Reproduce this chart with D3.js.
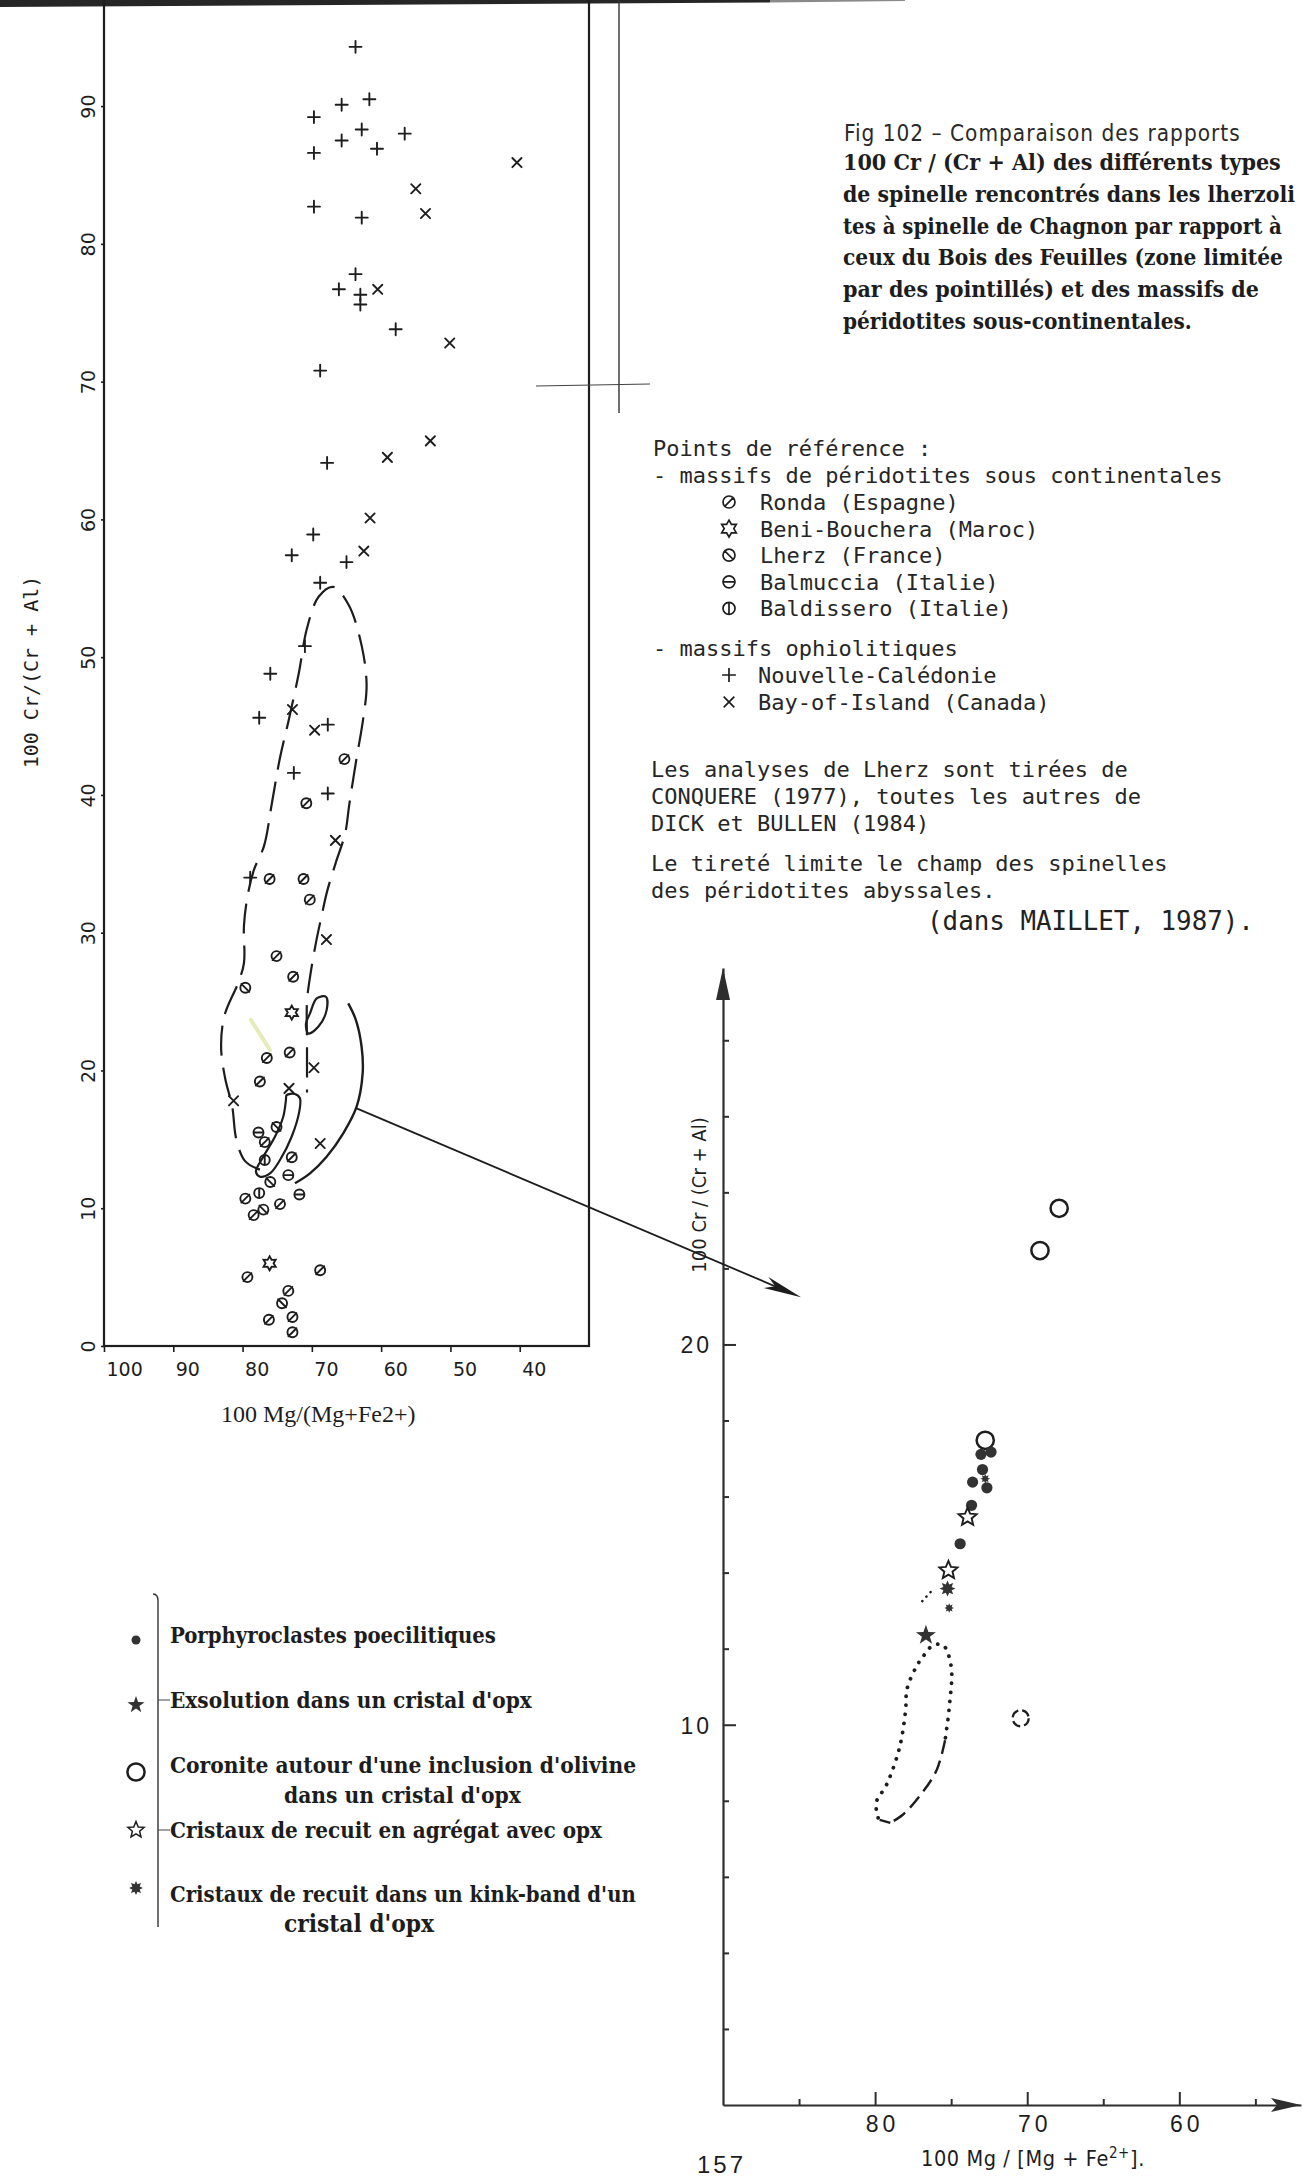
<!DOCTYPE html>
<html>
<head>
<meta charset="utf-8">
<script src="https://cdn.jsdelivr.net/npm/d3@7"></script>
<style>
  body { margin: 0; background: #fff; }
  svg { display: block; }
</style>
</head>
<body>
<svg id="page" width="1303" height="2179"></svg>
<script>
// ---- left diagram: reference points (x = 100 Mg/(Mg+Fe2+), y = 100 Cr/(Cr+Al)) ----
var leftXTicks = [100, 90, 80, 70, 60, 50, 40];
var leftYTicks = [0, 10, 20, 30, 40, 50, 60, 70, 80, 90];

// Nouvelle-Caledonie (+)
var plusPts = [[63.7,94.3],[65.7,90.1],[61.7,90.5],[69.7,89.2],[62.8,88.3],[56.6,88.0],[65.7,87.5],
  [60.6,86.9],[69.7,86.6],[69.7,82.7],[62.8,81.9],[63.7,77.8],[66.1,76.7],[63.0,76.3],[63.0,75.6],
  [57.9,73.8],[68.8,70.8],[67.8,64.1],[69.8,58.9],[72.9,57.4],[65.0,56.9],[68.8,55.4],[71.0,50.8],
  [76.0,48.8],[77.6,45.6],[67.7,45.1],[72.6,41.6],[67.7,40.1],[78.9,34.0]];

// Bay-of-Island (x)
var crossPts = [[40.4,85.9],[55.0,84.0],[53.6,82.2],[60.5,76.7],[50.1,72.8],[52.9,65.7],[59.1,64.5],
  [61.6,60.1],[62.5,57.7],[72.8,46.2],[69.6,44.7],[66.6,36.7],[67.9,29.5],[69.7,20.2],[81.3,17.8],
  [73.3,18.7],[68.8,14.7]];

// sub-continental massifs
var spinelPts = [
  [65.3,42.6,"ronda"],[70.8,39.4,"ronda"],[76.1,33.9,"ronda"],[71.2,33.9,"ronda"],[70.3,32.4,"ronda"],
  [75.1,28.3,"ronda"],[72.7,26.8,"ronda"],[79.6,26.0,"lherz"],[72.9,24.2,"beni"],[73.2,21.3,"ronda"],
  [76.5,20.9,"ronda"],[77.5,19.2,"ronda"],[77.7,15.5,"balmuccia"],[75.1,15.9,"lherz"],[76.8,14.8,"ronda"],
  [76.8,13.5,"baldissero"],[72.9,13.7,"ronda"],[73.4,12.4,"balmuccia"],[76.0,11.9,"lherz"],
  [79.6,10.7,"ronda"],[77.6,11.1,"baldissero"],[71.8,11.0,"balmuccia"],[74.6,10.3,"ronda"],
  [78.4,9.5,"ronda"],[77.0,9.9,"lherz"],[76.1,6.0,"beni"],[79.3,5.0,"ronda"],[68.8,5.5,"ronda"],
  [73.4,4.0,"ronda"],[74.3,3.1,"lherz"],[76.2,1.9,"ronda"],[72.8,2.1,"ronda"],[72.8,1.0,"ronda"]];

// abyssal peridotites field (dashed)
var abyssalField = [[77.5,12.8],[79.6,13.4],[80.9,15.0],[81.5,17.4],[82.5,19.4],[83.1,21.7],[82.6,24.0],
  [80.6,26.4],[79.8,27.8],[79.8,30.5],[79.3,32.6],[78.4,34.5],[76.9,36.3],[75.8,39.3],[74.6,42.7],
  [73.4,45.3],[71.9,48.8],[70.7,52.1],[69.0,54.4],[66.9,55.1],[64.7,53.8],[62.8,50.8],[62.1,48.0],
  [62.6,45.5],[63.6,42.5],[64.6,39.3],[65.2,37.2],[66.6,35.0],[67.8,33.0],[68.6,31.2],[69.4,29.3],
  [70.2,27.0],[70.7,25.0],[70.7,22.0],[70.7,18.4]];

// Chagnon fields (solid)
var innerLoop = [[73.64,18.21],[72.44,18.29],[71.72,17.98],[71.82,17.01],[72.92,15.19],[74.6,13.5],
  [76.05,12.53],[77.49,12.29],[78.07,12.65],[77.01,13.74],[75.33,15.19],[74.13,16.64],[73.74,17.85]];
var smallLoop = [[70.27,24.14],[69.3,25.23],[67.97,25.35],[67.87,24.38],[69.08,23.17],[70.52,22.69],[70.85,23.41]];
var bigArc = [[64.75,24.87],[63.64,23.66],[62.82,21.72],[62.67,19.79],[63.54,17.37],[65.47,15.44],
  [67.87,13.74],[70.27,12.53],[72.44,11.81]];

// arrow: from the left diagram (left scales) to the enlarged diagram (right scales)
var arrowFrom = [63.54, 17.25];
var arrowTo = [84.87, 21.24];

// ---- right diagram: Chagnon spinels ----
var rightYTicks = [2, 4, 6, 8, 10, 12, 14, 16, 18, 20, 22, 24, 26, 28];
var rightXTicks = [85, 80, 75, 70, 65, 60, 55];
var porphyroPts = [[73.04,17.11],[72.38,17.17],[72.94,16.71],[73.59,16.38],[72.65,16.23],[73.66,15.77],[74.41,14.76]];
var exsolutionPts = [[76.66,12.35]];
var coronitePts = [[67.9,23.58],[69.16,22.47],[72.76,17.48]];
var coroniteBrokenPts = [[70.43,10.17]];
var agregatPts = [[73.92,15.46],[75.18,14.06]];
var kinkPts = [[75.24,13.58],[75.13,13.07],[72.76,16.47]];
var boisDotted = [[79.8,7.55],[79.93,7.95],[79.25,8.42],[78.4,9.39],[78.0,10.36],[77.9,10.94],[77.3,11.52],
  [76.8,11.82],[76.25,12.07],[75.55,12.1],[75.0,11.54],[75.1,10.56],[75.4,9.59]];
var boisDashed = [[75.4,9.59],[75.96,8.8],[77.06,8.13],[78.16,7.64],[79.0,7.42]];
var boisClose = [[79.0,7.42],[79.7,7.5]];
var clusterTrail = [[76.9,13.25],[76.1,13.6]];

// ---- texts ----
var captionTitle = "Fig 102 – Comparaison des rapports";
var captionLines = [
  "100 Cr / (Cr + Al) des différents types",
  "de spinelle rencontrés dans les lherzoli",
  "tes à spinelle de Chagnon par rapport à",
  "ceux du Bois des Feuilles (zone limitée",
  "par des pointillés) et des massifs de",
  "péridotites sous-continentales."];
var continentalLabels = ["Ronda (Espagne)", "Beni-Bouchera (Maroc)", "Lherz (France)", "Balmuccia (Italie)", "Baldissero (Italie)"];
var continentalTypes = ["ronda", "beni", "lherz", "balmuccia", "baldissero"];
var ophioliteLabels = ["Nouvelle-Calédonie", "Bay-of-Island (Canada)"];
var sourceLines = ["Les analyses de Lherz sont tirées de", "CONQUERE (1977), toutes les autres de", "DICK et BULLEN (1984)"];
var dashLines = ["Le tireté limite le champ des spinelles", "des péridotites abyssales."];
var legendRows = [
  ["Porphyroclastes poecilitiques"],
  ["Exsolution dans un cristal d'opx"],
  ["Coronite autour d'une inclusion d'olivine", "dans un cristal d'opx"],
  ["Cristaux de recuit en agrégat avec opx"],
  ["Cristaux de recuit dans un kink-band d'un", "cristal d'opx"]];
var legendTypes = ["porphyro", "exsolution", "coronite", "agregat", "kink"];

var ink = "#1d1d1d";
var svg = d3.select("#page");
svg.append("rect").attr("width", 1303).attr("height", 2179).attr("fill", "#fff");

// size a text so that its natural width matches the width seen on the page
function fitText(sel, target, maxSize) {
  sel.each(function(d, i) {
    var t = typeof target === "function" ? target(d, i) : target;
    var el = d3.select(this).style("font-size", maxSize + "px");
    var w = this.getComputedTextLength();
    if (w > 0) el.style("font-size", Math.min(maxSize, maxSize * t / w).toFixed(2) + "px");
  });
  return sel;
}

// dark edge of the scan
svg.append("path").attr("d", "M0,0H770V2.5L0,7Z").attr("fill", "#262626");
svg.append("path").attr("d", "M770,0H905V1L770,2.5Z").attr("fill", "#8a8a8a");

// ---------- marker shapes ----------
function ringPath(r) {
  return "M" + r + ",0A" + r + "," + r + ",0,1,1," + (-r) + ",0A" + r + "," + r + ",0,1,1," + r + ",0Z";
}
function starPath(outer, inner, n) {
  var p = [];
  for (var i = 0; i < n * 2; i++) {
    var a = -Math.PI / 2 + i * Math.PI / n;
    var r = i % 2 ? inner : outer;
    p.push([r * Math.cos(a), r * Math.sin(a)]);
  }
  return "M" + p.map(function(q) { return q[0].toFixed(2) + "," + q[1].toFixed(2); }).join("L") + "Z";
}
function markerPath(type, s) {
  var r = 5 * s, k = r * 0.8;
  switch (type) {
    case "plus": return "M" + (-6 * s) + ",0H" + (6 * s) + "M0," + (-6 * s) + "V" + (6 * s);
    case "cross": var c = 4.6 * s; return "M" + (-c) + "," + (-c) + "L" + c + "," + c + "M" + (-c) + "," + c + "L" + c + "," + (-c);
    case "ronda": return ringPath(r) + "M" + (-k) + "," + k + "L" + k + "," + (-k);
    case "lherz": return ringPath(r) + "M" + (-k) + "," + (-k) + "L" + k + "," + k;
    case "balmuccia": return ringPath(r) + "M" + (-r) + ",0H" + r;
    case "baldissero": return ringPath(r) + "M0," + (-r) + "V" + r;
    case "beni": return starPath(7 * s, 4 * s, 6);
  }
}
function drawMarks(g, pts, type, sx, sy, s) {
  g.selectAll(null).data(pts).enter().append("path")
    .attr("transform", function(d) { return "translate(" + sx(d[0]) + "," + sy(d[1]) + ")"; })
    .attr("d", function(d) { return markerPath(d[2] || type, s || 1); })
    .attr("fill", "none").attr("stroke", ink).attr("stroke-width", 1.9)
    .attr("stroke-linecap", "round");
}

// ================= LEFT DIAGRAM =================
var xL = d3.scaleLinear().domain([100, 30]).range([104, 589]);
var yL = d3.scaleLinear().domain([0, 97.7]).range([1346, 0]);
var left = svg.append("g");

left.append("rect").attr("x", xL(100)).attr("y", -3)
  .attr("width", xL(30) - xL(100)).attr("height", yL(0) + 3)
  .attr("fill", "none").attr("stroke", ink).attr("stroke-width", 2.2);

// stray rules of the pasted page
left.append("line").attr("x1", 619).attr("x2", 619).attr("y1", 0).attr("y2", 413)
  .attr("stroke", "#333").attr("stroke-width", 1.4);
left.append("line").attr("x1", 536).attr("x2", 650).attr("y1", 386).attr("y2", 384)
  .attr("stroke", "#444").attr("stroke-width", 1.1);

var xAxisL = left.append("g").attr("transform", "translate(0," + yL(0) + ")")
  .call(d3.axisBottom(xL).tickValues(leftXTicks).tickSize(6).tickSizeOuter(0));
xAxisL.select(".domain").remove();
xAxisL.selectAll("line").attr("stroke", ink).attr("stroke-width", 1.6);
xAxisL.selectAll("text").attr("x", 2).attr("y", 30).attr("dy", 0)
  .style("text-anchor", "start").attr("fill", ink)
  .style("font-family", "'DejaVu Sans', sans-serif").style("font-size", "19px");

var yAxisL = left.append("g").attr("transform", "translate(" + xL(100) + ",0)")
  .call(d3.axisLeft(yL).tickValues(leftYTicks).tickSize(3).tickSizeOuter(0));
yAxisL.select(".domain").remove();
yAxisL.selectAll("line").attr("stroke", ink).attr("stroke-width", 1.6);
yAxisL.selectAll("text").attr("x", 0).attr("y", 0).attr("dy", 0)
  .attr("transform", "translate(-9,0) rotate(-90)")
  .style("text-anchor", "middle").attr("fill", ink)
  .style("font-family", "'DejaVu Sans', sans-serif").style("font-size", "19px");

fitText(left.append("text").attr("transform", "translate(38,672) rotate(-90)")
  .attr("text-anchor", "middle")
  .style("font-family", "'DejaVu Sans Mono', monospace").attr("fill", ink)
  .text("100 Cr/(Cr + Al)"), 200, 20);
fitText(left.append("text").attr("x", 221).attr("y", 1422)
  .style("font-family", "'Liberation Serif', serif").attr("fill", ink)
  .text("100 Mg/(Mg+Fe2+)"), 195, 24);

// faint yellow streak of the scan
left.append("line").attr("x1", 251).attr("y1", 1020).attr("x2", 270).attr("y2", 1050)
  .attr("stroke", "#e6ebb8").attr("stroke-width", 4).attr("stroke-linecap", "round");

var lineL = d3.line().x(function(d) { return xL(d[0]); }).y(function(d) { return yL(d[1]); });
left.append("path").attr("d", lineL.curve(d3.curveCatmullRom)(abyssalField))
  .attr("fill", "none").attr("stroke", ink).attr("stroke-width", 2.2).attr("stroke-dasharray", "30,12");
left.append("path").attr("d", lineL.curve(d3.curveCatmullRomClosed)(innerLoop))
  .attr("fill", "none").attr("stroke", ink).attr("stroke-width", 2.2);
left.append("path").attr("d", lineL.curve(d3.curveCatmullRomClosed)(smallLoop))
  .attr("fill", "none").attr("stroke", ink).attr("stroke-width", 2.2);
left.append("path").attr("d", lineL.curve(d3.curveCatmullRom)(bigArc))
  .attr("fill", "none").attr("stroke", ink).attr("stroke-width", 2.4);

drawMarks(left, plusPts, "plus", xL, yL);
drawMarks(left, crossPts, "cross", xL, yL);
drawMarks(left, spinelPts, null, xL, yL);

// ================= RIGHT DIAGRAM =================
var xR = d3.scaleLinear().domain([90, 52]).range([723, 1301]);
var yR = d3.scaleLinear().domain([0, 29.9]).range([2105, 968]);
var right = svg.append("g");
var axisInk = "#2e2e2e";

var yAxisR = right.append("g").attr("transform", "translate(" + xR(90) + ",0)")
  .call(d3.axisLeft(yR).tickValues(rightYTicks).tickSize(-6).tickSizeOuter(0).tickPadding(12)
    .tickFormat(function(d) { return d % 10 === 0 ? d : ""; }));
yAxisR.select(".domain").attr("stroke", axisInk).attr("stroke-width", 2.2);
yAxisR.selectAll("line").attr("stroke", axisInk).attr("stroke-width", 2)
  .attr("x2", function(d) { return d % 10 === 0 ? 13 : 6; });
yAxisR.selectAll("text").attr("x", -11).attr("dy", "0.36em").attr("fill", ink)
  .style("font-family", "'Liberation Sans', sans-serif").style("font-size", "23px")
  .style("letter-spacing", "3px");

var xAxisR = right.append("g").attr("transform", "translate(0," + yR(0) + ")")
  .call(d3.axisBottom(xR).tickValues(rightXTicks).tickSize(-6).tickSizeOuter(0).tickPadding(8)
    .tickFormat(function(d) { return d % 10 === 0 ? d : ""; }));
xAxisR.select(".domain").attr("stroke", axisInk).attr("stroke-width", 2.2);
xAxisR.selectAll("line").attr("stroke", axisInk).attr("stroke-width", 2)
  .attr("y2", function(d) { return d % 10 === 0 ? -13 : -6; });
xAxisR.selectAll("text").attr("x", 7).attr("y", 27).attr("dy", 0).attr("fill", ink)
  .style("font-family", "'Liberation Sans', sans-serif").style("font-size", "23px")
  .style("letter-spacing", "4px");

// axis arrow heads
var yTop = yR(yR.domain()[1]), xEnd = xR(xR.domain()[1]);
right.append("path").attr("d", "M" + xR(90) + "," + yTop + "L" + (xR(90) - 7) + "," + (yTop + 32) +
  "L" + (xR(90) + 7) + "," + (yTop + 32) + "Z").attr("fill", axisInk);
right.append("path").attr("d", "M" + xEnd + "," + yR(0) + "L" + (xEnd - 30) + "," + (yR(0) - 7) +
  "L" + (xEnd - 24) + "," + yR(0) + "L" + (xEnd - 30) + "," + (yR(0) + 7) + "Z").attr("fill", axisInk);

fitText(right.append("text").attr("transform", "translate(706,1195) rotate(-90)")
  .attr("text-anchor", "middle")
  .style("font-family", "'DejaVu Sans Condensed', 'DejaVu Sans', sans-serif")
  .attr("fill", ink).text("100 Cr / (Cr + Al)"), 180, 20);

var xTitle = right.append("text").attr("x", 921).attr("y", 2166)
  .style("font-family", "'DejaVu Sans Condensed', 'DejaVu Sans', sans-serif").style("font-size", "21.5px")
  .style("letter-spacing", "0.6px").attr("fill", ink);
xTitle.append("tspan").text("100 Mg / [Mg + Fe");
xTitle.append("tspan").attr("dy", -8).style("font-size", "15px").text("2+");
xTitle.append("tspan").attr("dy", 8).text("].");

svg.append("text").attr("x", 697).attr("y", 2173)
  .style("font-family", "'Liberation Sans', sans-serif").style("font-size", "24px")
  .style("letter-spacing", "3px").attr("fill", ink).text("157");

// Bois des Feuilles field
var lineR = d3.line().x(function(d) { return xR(d[0]); }).y(function(d) { return yR(d[1]); });
right.append("path").attr("d", lineR.curve(d3.curveCatmullRom)(boisDotted))
  .attr("fill", "none").attr("stroke", ink).attr("stroke-width", 3.8)
  .attr("stroke-linecap", "round").attr("stroke-dasharray", "0.1,9");
right.append("path").attr("d", lineR.curve(d3.curveCatmullRom)(boisDashed))
  .attr("fill", "none").attr("stroke", ink).attr("stroke-width", 2.4).attr("stroke-dasharray", "14,7");
right.append("path").attr("d", lineR.curve(d3.curveLinear)(boisClose))
  .attr("fill", "none").attr("stroke", ink).attr("stroke-width", 2.4);
right.append("path").attr("d", lineR.curve(d3.curveLinear)(clusterTrail))
  .attr("fill", "none").attr("stroke", ink).attr("stroke-width", 2.6)
  .attr("stroke-linecap", "round").attr("stroke-dasharray", "0.1,6");

// right-diagram marker drawing
function drawRight(g, pts, type, sx, sy) {
  var sel = g.selectAll(null).data(pts).enter().append("path")
    .attr("transform", function(d) { return "translate(" + sx(d[0]) + "," + sy(d[1]) + ")"; });
  if (type === "porphyro") {
    sel.attr("d", d3.symbol(d3.symbolCircle, Math.PI * 5.6 * 5.6)).attr("fill", "#333");
  } else if (type === "exsolution") {
    sel.attr("d", starPath(10.5, 4.2, 5)).attr("fill", "#333");
  } else if (type === "coronite") {
    sel.attr("d", ringPath(8.6)).attr("fill", "none").attr("stroke", ink).attr("stroke-width", 2.5);
  } else if (type === "coroniteBroken") {
    sel.attr("d", ringPath(8)).attr("fill", "none").attr("stroke", ink).attr("stroke-width", 2.3)
      .attr("stroke-dasharray", "9,4");
  } else if (type === "agregat") {
    sel.attr("d", starPath(9.5, 4.3, 5)).attr("fill", "#fff").attr("stroke", ink).attr("stroke-width", 1.9);
  } else if (type === "kink") {
    sel.attr("d", starPath(8, 4.5, 8)).attr("fill", "#333");
  }
  return sel;
}
drawRight(right, coronitePts, "coronite", xR, yR);
drawRight(right, coroniteBrokenPts, "coroniteBroken", xR, yR);
drawRight(right, porphyroPts, "porphyro", xR, yR);
drawRight(right, kinkPts, "kink", xR, yR).filter(function(d, i) { return i > 0; })
  .attr("transform", function(d) { return "translate(" + xR(d[0]) + "," + yR(d[1]) + ") scale(0.6)"; });
drawRight(right, agregatPts, "agregat", xR, yR);
drawRight(right, exsolutionPts, "exsolution", xR, yR);

// connecting arrow
var a0 = [xL(arrowFrom[0]), yL(arrowFrom[1])];
var a1 = [xR(arrowTo[0]), yR(arrowTo[1])];
var ang = Math.atan2(a1[1] - a0[1], a1[0] - a0[0]);
var ux = Math.cos(ang), uy = Math.sin(ang);
svg.append("line").attr("x1", a0[0]).attr("y1", a0[1])
  .attr("x2", a1[0] - 20 * ux).attr("y2", a1[1] - 20 * uy)
  .attr("stroke", ink).attr("stroke-width", 1.8);
svg.append("path").attr("d", "M" + a1[0] + "," + a1[1] +
  "L" + (a1[0] - 38 * ux - 6 * uy) + "," + (a1[1] - 38 * uy + 6 * ux) +
  "L" + (a1[0] - 28 * ux) + "," + (a1[1] - 28 * uy) +
  "L" + (a1[0] - 38 * ux + 6 * uy) + "," + (a1[1] - 38 * uy - 6 * ux) + "Z")
  .attr("fill", ink);

// ================= CAPTION =================
var capFont = "'DejaVu Serif Condensed', 'DejaVu Serif', serif";
var capLengths = [438, 452, 439, 440, 416, 349];
fitText(svg.append("text").attr("x", 844).attr("y", 141)
  .style("font-family", "'DejaVu Sans Condensed', 'DejaVu Sans', sans-serif")
  .style("letter-spacing", "1px")
  .attr("fill", "#2a2a2a").text(captionTitle), 396, 23);
fitText(svg.append("g").selectAll("text").data(captionLines).enter().append("text")
  .attr("x", 843).attr("y", function(d, i) { return 170 + i * 31.8; })
  .style("font-family", capFont).style("font-weight", "bold").style("font-stretch", "condensed")
  .attr("fill", ink).text(function(d) { return d; }), function(d, i) { return capLengths[i]; }, 25);

// ================= REFERENCE POINTS BLOCK =================
var mono = svg.append("g").style("font-family", "'DejaVu Sans Mono', monospace")
  .style("font-size", "22px").attr("fill", "#262626");
mono.append("text").attr("x", 653).attr("y", 456).text("Points de référence :");
mono.append("text").attr("x", 653).attr("y", 483).text("- massifs de péridotites sous continentales");
mono.selectAll(null).data(continentalLabels).enter().append("text")
  .attr("x", 760).attr("y", function(d, i) { return 510 + i * 26.6; }).text(function(d) { return d; });
var contMarks = mono.append("g");
contMarks.selectAll(null).data(continentalTypes).enter().append("path")
  .attr("transform", function(d, i) { return "translate(729," + (502 + i * 26.6) + ")"; })
  .attr("d", function(d) { return markerPath(d, 1.2); })
  .attr("fill", "none").attr("stroke", ink).attr("stroke-width", 1.7);
mono.append("text").attr("x", 653).attr("y", 656).text("- massifs ophiolitiques");
mono.selectAll(null).data(ophioliteLabels).enter().append("text")
  .attr("x", 758).attr("y", function(d, i) { return 683 + i * 27; }).text(function(d) { return d; });
contMarks.selectAll(null).data(["plus", "cross"]).enter().append("path")
  .attr("transform", function(d, i) { return "translate(729," + (675 + i * 27) + ")"; })
  .attr("d", function(d) { return markerPath(d, 1.15); })
  .attr("fill", "none").attr("stroke", ink).attr("stroke-width", 1.7);
mono.selectAll(null).data(sourceLines).enter().append("text")
  .attr("x", 651).attr("y", function(d, i) { return 777 + i * 27; }).text(function(d) { return d; });
mono.selectAll(null).data(dashLines).enter().append("text")
  .attr("x", 651).attr("y", function(d, i) { return 871 + i * 26.5; }).text(function(d) { return d; });
fitText(svg.append("text").attr("x", 927).attr("y", 930)
  .style("font-family", "'DejaVu Sans Mono', monospace")
  .attr("fill", "#222").text("(dans MAILLET, 1987)."), 327, 28);

// ================= CHAGNON LEGEND =================
var leg = svg.append("g");
var legY = [1643, 1708, 1773, 1838, 1902];
var legSymY = [1640, 1705, 1772, 1830, 1888];
var legLen = [[326], [362], [466, 237], [432], [466, 150]];
leg.append("path").attr("d", "M153,1594Q158,1594 158,1601V1927")
  .attr("fill", "none").attr("stroke", "#333").attr("stroke-width", 1.4);
leg.selectAll(null).data([1700, 1830]).enter().append("line")
  .attr("x1", 158).attr("x2", 170).attr("y1", function(d) { return d; }).attr("y2", function(d) { return d; })
  .attr("stroke", "#555").attr("stroke-width", 1.1);
legendRows.forEach(function(row, i) {
  row.forEach(function(line, j) {
    fitText(leg.append("text").attr("x", j === 0 ? 170 : 284).attr("y", legY[i] + j * 30)
      .style("font-family", capFont).style("font-weight", "bold").style("font-stretch", "condensed")
      .attr("fill", ink).text(line), legLen[i][j], 25);
  });
  var fx = d3.scaleLinear().domain([0, 1]).range([136, 136]);
  var fy = d3.scaleLinear().domain([0, 1]).range([legSymY[i], legSymY[i]]);
  var s = drawRight(leg, [[0, 0]], legendTypes[i], fx, fy);
  if (legendTypes[i] === "porphyro") s.attr("d", d3.symbol(d3.symbolCircle, Math.PI * 4.5 * 4.5));
  if (legendTypes[i] === "exsolution") s.attr("d", starPath(9, 3.6, 5));
  if (legendTypes[i] === "agregat") s.attr("d", starPath(8.5, 3.8, 5)).attr("stroke-width", 1.5);
  if (legendTypes[i] === "kink") s.attr("d", starPath(7, 4, 8));
});
</script>
</body>
</html>
